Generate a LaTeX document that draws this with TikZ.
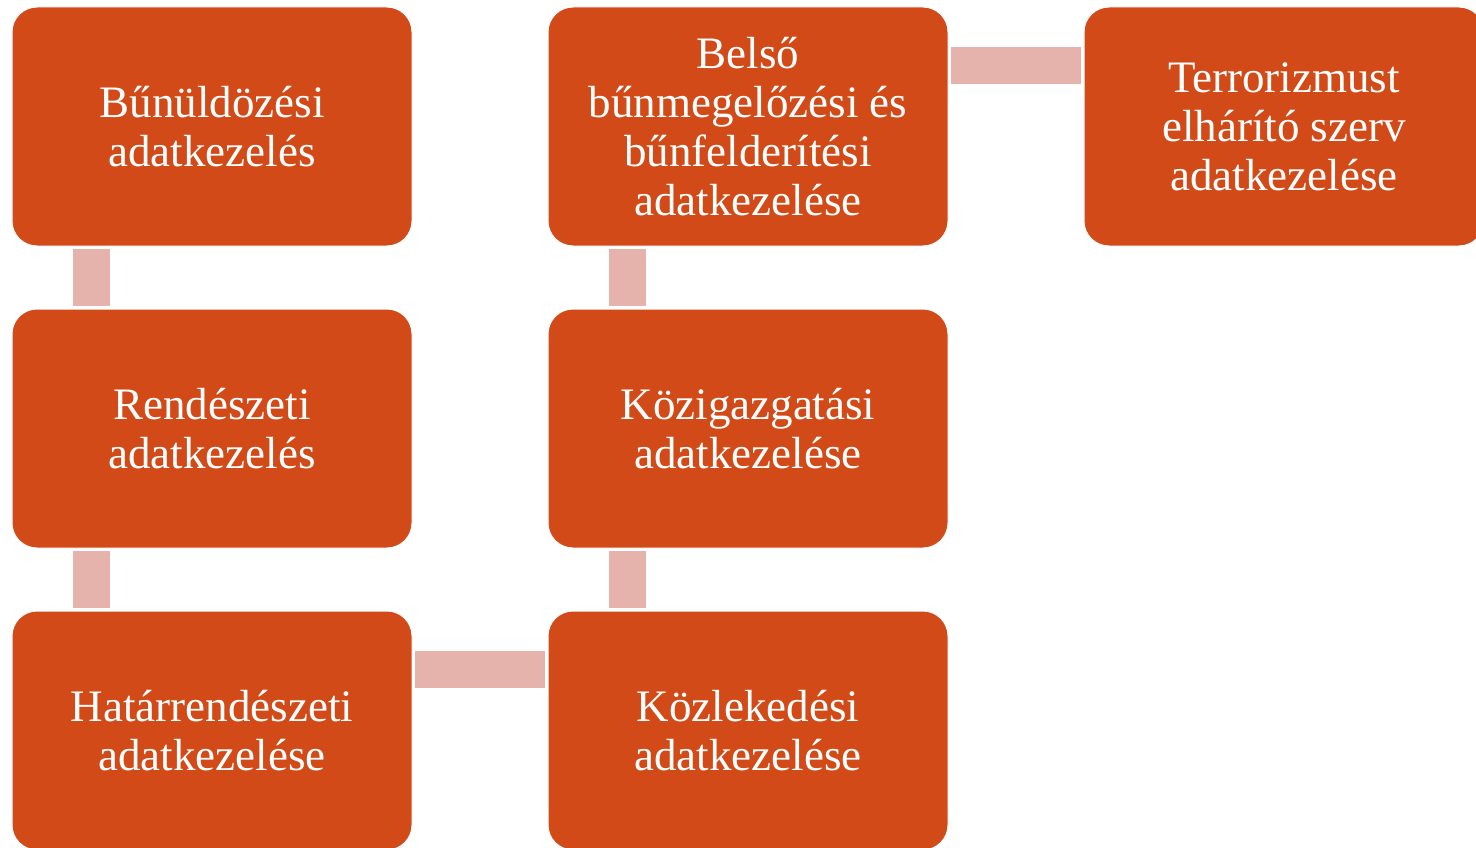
\documentclass[tikz,border=0pt]{standalone}
\usepackage{fontspec}
\setmainfont{Liberation Serif}
\definecolor{boxfill}{RGB}{209,74,23}
\definecolor{connfill}{RGB}{230,178,172}
\begin{document}
\begin{tikzpicture}[x=1pt,y=-1pt,
  box/.style={rectangle, rounded corners=25pt, fill=boxfill, draw=white, line width=1pt,
    minimum width=400pt, minimum height=239pt, inner sep=0pt, outer sep=0pt,
    text=white, align=center, font=\fontsize{45}{49}\selectfont},
  conn/.style={draw=connfill, line width=37pt, line cap=butt, shorten >=3pt, shorten <=3pt}]
\useasboundingbox (0,0) rectangle (1476,848);
\clip (0,0) rectangle (1476,848);
\node[box] (b1) at (212,126.5) {Bűnüldözési\\adatkezelés};
\node[box] (b2) at (212,428.5) {Rendészeti\\adatkezelés};
\node[box] (b3) at (212,730.5) {Határrendészeti\\adatkezelése};
\node[box] (b6) at (748,730.5) {Közlekedési\\adatkezelése};
\node[box] (b5) at (748,428.5) {Közigazgatási\\adatkezelése};
\node[box] (b4) at (748,126.5) {Belső\\bűnmegelőzési és\\bűnfelderítési\\adatkezelése};
\node[box] (b7) at (1284,126.5) {Terrorizmust\\elhárító szerv\\adatkezelése};
\draw[conn] ([xshift=-120.5pt]b1.south) -- ([xshift=-120.5pt]b2.north);
\draw[conn] ([xshift=-120.5pt]b2.south) -- ([xshift=-120.5pt]b3.north);
\draw[conn] ([yshift=61.5pt]b3.east) -- ([yshift=61.5pt]b6.west);
\draw[conn] ([xshift=-120.5pt]b6.north) -- ([xshift=-120.5pt]b5.south);
\draw[conn] ([xshift=-120.5pt]b5.north) -- ([xshift=-120.5pt]b4.south);
\draw[conn] ([yshift=61pt]b4.east) -- ([yshift=61pt]b7.west);
\end{tikzpicture}
\end{document}
